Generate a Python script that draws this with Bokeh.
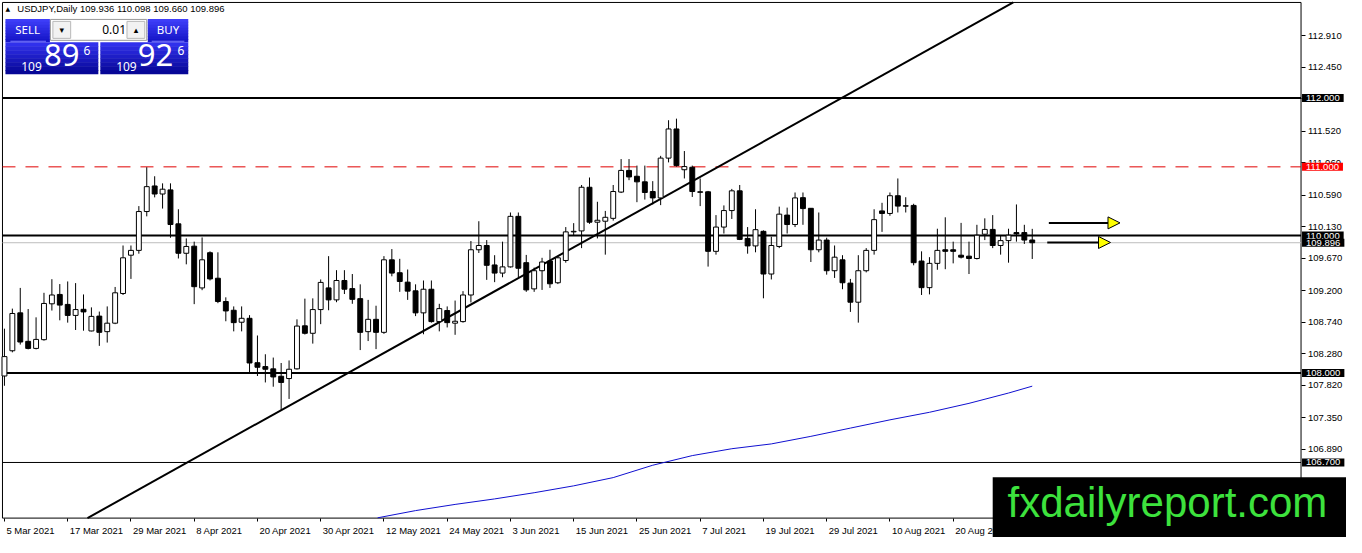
from bokeh.plotting import figure
from bokeh.models import (Range1d, FixedTicker, NumeralTickFormatter, Label, BoxAnnotation,
                          Arrow, NormalHead, ColumnDataSource)
from bokeh.embed import file_html
from bokeh.resources import INLINE

# ---------------- data ----------------
symbol_header = "USDJPY,Daily  109.936 110.098 109.660 109.896"

opens = [107.958, 108.325, 108.876, 108.462, 108.359, 108.486, 109.008, 109.144, 108.999, 108.839,
         108.928, 108.613, 108.829, 108.603, 108.726, 109.158, 109.715, 109.785, 110.350, 110.722,
         110.605, 110.665, 110.171, 109.743, 109.846, 109.239, 109.751, 109.380, 109.041, 108.914,
         108.740, 108.797, 108.151, 108.095, 108.062, 107.954, 107.921, 108.062, 108.688, 108.579,
         108.924, 109.239, 109.065, 109.347, 109.229, 109.083, 108.603, 108.782, 108.593, 109.648,
         109.460, 109.323, 109.197, 108.876, 109.220, 108.749, 108.910, 108.726, 108.749, 109.136,
         109.794, 109.856, 109.573, 109.455, 109.545, 110.280, 109.606, 109.225, 109.489, 109.630,
         109.314, 109.638, 110.054, 110.068, 110.703, 110.195, 110.209, 110.251, 110.633, 110.948,
         110.863, 110.782, 110.641, 110.548, 111.127, 111.551, 110.958, 110.994, 110.637, 110.637,
         109.771, 110.124, 110.364, 110.651, 109.959, 109.850, 110.062, 109.441, 109.842, 110.298,
         110.161, 110.552, 110.397, 109.794, 109.935, 109.489, 109.648, 109.309, 109.031, 109.489,
         109.785, 110.359, 110.322, 110.580, 110.434, 110.439, 109.630, 109.243, 109.596, 109.794,
         109.794, 109.715, 109.701, 109.667, 110.020, 110.090, 109.856, 109.927, 110.044, 110.044,
         109.936]
highs = [108.646, 108.938, 109.239, 108.932, 108.811, 109.168, 109.366, 109.295, 109.333, 109.309,
         109.144, 108.956, 108.895, 108.970, 109.253, 109.856, 109.856, 110.429, 110.994, 110.863,
         110.760, 110.760, 110.383, 109.959, 109.912, 109.973, 109.771, 109.757, 109.102, 108.970,
         108.970, 108.843, 108.547, 108.274, 108.226, 108.147, 108.184, 108.782, 109.083, 109.087,
         109.362, 109.701, 109.497, 109.497, 109.441, 109.291, 109.065, 108.980, 109.701, 109.804,
         109.662, 109.507, 109.291, 109.347, 109.347, 109.008, 108.970, 109.055, 109.192, 109.921,
         110.209, 109.935, 109.715, 109.912, 110.336, 110.336, 109.719, 109.535, 109.677, 109.794,
         109.701, 110.124, 110.181, 110.736, 110.845, 110.492, 110.359, 110.736, 111.113, 111.113,
         111.018, 111.018, 110.792, 111.160, 111.678, 111.701, 111.230, 111.018, 110.831, 110.650,
         110.298, 110.439, 110.679, 110.736, 110.124, 110.383, 110.076, 109.983, 110.421, 110.407,
         110.627, 110.627, 110.400, 110.336, 109.969, 109.856, 109.715, 109.370, 109.715, 109.818,
         110.383, 110.477, 110.627, 110.831, 110.558, 110.463, 109.771, 109.686, 110.100, 110.266,
         109.912, 110.185, 109.912, 110.157, 110.251, 110.298, 110.006, 110.100, 110.453, 110.157,
         110.098]
lows = [107.816, 108.302, 108.415, 108.345, 108.345, 108.472, 108.910, 108.768, 108.734, 108.627,
        108.617, 108.607, 108.396, 108.444, 108.712, 109.136, 109.370, 109.737, 110.280, 110.556,
        110.393, 109.969, 109.667, 109.582, 109.003, 109.206, 109.347, 109.017, 108.754, 108.607,
        108.607, 108.006, 107.958, 107.864, 107.802, 107.463, 107.624, 108.052, 108.561, 108.429,
        108.712, 108.914, 109.031, 109.150, 109.008, 108.335, 108.466, 108.349, 108.571, 109.408,
        109.182, 109.065, 108.829, 108.565, 108.734, 108.607, 108.664, 108.557, 108.734, 109.027,
        109.747, 109.356, 109.323, 109.394, 109.535, 109.394, 109.182, 109.182, 109.210, 109.239,
        109.295, 109.606, 110.006, 109.818, 110.171, 109.959, 109.723, 110.218, 110.619, 110.806,
        110.486, 110.524, 110.453, 110.443, 111.065, 111.004, 110.831, 110.562, 110.429, 109.549,
        109.723, 110.030, 110.242, 109.935, 109.737, 109.757, 109.088, 109.362, 109.818, 110.030,
        110.124, 110.157, 109.616, 109.757, 109.432, 109.384, 109.220, 108.890, 108.734, 109.465,
        109.723, 110.054, 110.288, 110.336, 110.336, 109.568, 109.136, 109.145, 109.503, 109.511,
        109.596, 109.667, 109.441, 109.653, 109.935, 109.818, 109.723, 109.606, 109.912, 109.878,
        109.660]
closes = [108.240, 108.867, 108.452, 108.359, 108.490, 109.013, 109.136, 108.989, 108.839, 108.924,
          108.890, 108.825, 108.593, 108.726, 109.168, 109.677, 109.785, 110.350, 110.712, 110.605,
          110.675, 110.161, 109.743, 109.842, 109.257, 109.648, 109.370, 109.041, 108.904, 108.734,
          108.797, 108.147, 108.085, 108.056, 107.944, 107.864, 108.056, 108.684, 108.579, 108.924,
          109.319, 109.065, 109.347, 109.220, 109.073, 108.593, 108.782, 108.593, 109.648, 109.455,
          109.333, 109.192, 108.876, 109.220, 108.749, 108.938, 108.734, 108.754, 109.136, 109.794,
          109.856, 109.568, 109.455, 109.545, 110.280, 109.525, 109.210, 109.489, 109.616, 109.299,
          109.677, 110.054, 110.062, 110.703, 110.195, 110.223, 110.266, 110.641, 110.948, 110.853,
          110.782, 110.627, 110.548, 111.127, 111.551, 111.018, 111.004, 110.641, 110.630, 109.771,
          110.124, 110.364, 110.651, 109.945, 109.850, 110.086, 109.441, 109.856, 110.312, 110.161,
          110.548, 110.393, 109.794, 109.935, 109.489, 109.686, 109.314, 109.031, 109.489, 109.785,
          110.232, 110.322, 110.580, 110.429, 110.428, 109.606, 109.243, 109.596, 109.785, 109.771,
          109.771, 109.686, 109.667, 110.006, 110.090, 109.856, 109.927, 110.006, 110.025, 109.935,
          109.896]

ma200_bar = [47.2, 52, 57, 62, 67, 72, 77, 82, 87, 92, 97, 102, 107, 112, 117, 122, 127, 130]
ma200_val = [105.895, 106.00, 106.09, 106.17, 106.26, 106.36, 106.48, 106.66, 106.80, 106.90,
             106.97, 107.08, 107.20, 107.32, 107.43, 107.56, 107.71, 107.81]

trend_bar = [10.5, 127.6]
trend_val = [105.891, 113.391]

black_levels = [112.0, 110.0, 108.0]
thin_level = 106.7
red_level = 111.0
bid_price = 109.896

arrow_price = [110.185, 109.900]
arrow_from = [132.1, 131.9]
arrow_to = [141.1, 139.9]

date_ticks = [0, 8, 16, 24, 32, 40, 48, 56, 64, 72, 80, 88, 96, 104, 112, 120]
date_labels = ["5 Mar 2021", "17 Mar 2021", "29 Mar 2021", "8 Apr 2021", "20 Apr 2021",
               "30 Apr 2021", "12 May 2021", "24 May 2021", "3 Jun 2021", "15 Jun 2021",
               "25 Jun 2021", "7 Jul 2021", "19 Jul 2021", "29 Jul 2021", "10 Aug 2021",
               "20 Aug 2021"]
price_ticks = [106.890, 107.350, 107.820, 108.280, 108.740, 109.200, 109.670, 110.130,
               110.590, 111.060, 111.520, 111.990, 112.450, 112.910]

# chart window (MT4 frame) in data units
win_left, win_right = -0.25, 164.0
win_bottom, win_top = 105.891, 113.391

# ---------------- figure ----------------
W, H = 1346, 537
KX, KY = W / 1362.0, H / 553.0
AXF = "Liberation Sans"
AXS = "9.5px"

p = figure(width=W, height=H, output_backend="svg", toolbar_location=None,
           x_range=Range1d(-0.5, 169.75), y_range=Range1d(105.6088, 113.4195),
           y_axis_location="right", x_axis_location="below",
           min_border=0, min_border_left=0, min_border_right=0,
           min_border_top=0, min_border_bottom=0)
p.grid.visible = False
p.outline_line_color = None
p.background_fill_color = "white"
p.border_fill_color = "white"

# price axis (drawn at the right edge of the chart window)
ya = p.yaxis[0]
ya.fixed_location = win_right
ya.ticker = FixedTicker(ticks=price_ticks)
ya.formatter = NumeralTickFormatter(format="0.000")
ya.major_tick_out = 4
ya.major_tick_in = 0
ya.minor_tick_out = 0
ya.minor_tick_in = 0
ya.major_label_standoff = 3
ya.major_label_text_font = AXF
ya.major_label_text_font_size = AXS
ya.major_label_text_color = "black"
ya.axis_line_color = None
ya.major_tick_line_color = "black"


# time axis (drawn at the bottom of the chart window); labels start at their tick
def text_w(s, size=9.5):
    wt = {" ": 278, "M": 833, "a": 556, "r": 333, "A": 667, "p": 556, "y": 500, "J": 500,
          "u": 556, "n": 556, "l": 222, "S": 667, "e": 556, "g": 556}
    return sum(wt.get(ch, 556) for ch in s) / 1000.0 * size


label_pos = [t + (2.0 + text_w(s) / 2.0) / (8.0 * KX) for t, s in zip(date_ticks, date_labels)]
xa = p.xaxis[0]
xa.fixed_location = win_bottom
xa.ticker = FixedTicker(ticks=label_pos, minor_ticks=date_ticks)
xa.major_label_overrides = {pos: s for pos, s in zip(label_pos, date_labels)}
xa.major_tick_out = 0
xa.major_tick_in = 0
xa.minor_tick_out = 3
xa.minor_tick_in = 0
xa.minor_tick_line_color = "black"
xa.major_label_standoff = 4
xa.major_label_text_font = AXF
xa.major_label_text_font_size = AXS
xa.major_label_text_color = "black"
xa.axis_line_color = None

# chart window border
p.add_layout(BoxAnnotation(left=win_left, right=win_right, bottom=win_bottom, top=win_top,
                           fill_alpha=0.0, line_color="black", line_width=1, line_alpha=1.0,
                           level="underlay"))

# horizontal levels
for lv in black_levels:
    p.segment(x0=win_left, x1=win_right, y0=lv, y1=lv, line_color="black", line_width=2)
p.segment(x0=win_left, x1=win_right, y0=thin_level, y1=thin_level, line_color="black", line_width=1)
p.segment(x0=win_left, x1=win_right, y0=red_level, y1=red_level, line_color="#e00000",
          line_width=1, line_dash="13 10")
p.segment(x0=win_left, x1=win_right, y0=bid_price, y1=bid_price, line_color="#bdbdbd",
          line_width=1)

# moving average and trend line
p.line(ma200_bar, ma200_val, line_color="#1010d0", line_width=1)
p.line(trend_bar, trend_val, line_color="black", line_width=2)

# candles
n = len(opens)
src = ColumnDataSource(dict(
    x=list(range(n)), o=opens, h=highs, l=lows, c=closes,
    top=[max(a, b) for a, b in zip(opens, closes)],
    bot=[min(a, b) for a, b in zip(opens, closes)],
    fill=["white" if c >= o else "black" for o, c in zip(opens, closes)],
))
p.segment(x0="x", y0="h", x1="x", y1="l", source=src, line_color="black", line_width=1)
p.vbar(x="x", width=0.62, top="top", bottom="bot", source=src, fill_color="fill",
       line_color="black", line_width=1)

# arrows
for yv, x0, x1 in zip(arrow_price, arrow_from, arrow_to):
    p.add_layout(Arrow(end=NormalHead(size=12, fill_color="#ffff00", line_color="black", line_width=1),
                       x_start=x0, y_start=yv, x_end=x1, y_end=yv,
                       line_color="black", line_width=2))

# price tags on the price axis
tags = [(112.0, "black"), (111.0, "#ff0000"), (110.0, "black"), (bid_price, "black"),
        (108.0, "black"), (thin_level, "black")]
for pr, col in tags:
    p.add_layout(Label(x=1317 * KX, x_units="screen", y=pr, y_units="data", text=f"{pr:.3f}",
                       text_color="white", text_font=AXF, text_font_size=AXS,
                       text_baseline="middle", background_fill_color=col,
                       background_fill_alpha=1.0, padding=(4, 1)))


# ---------------- one-click trading panel (screen units) ----------------
def sx(xr):
    return xr * KX


def sy(yr):
    return (553 - yr) * KY


def box(l, r, t, b, color, line=None, level="annotation"):
    p.add_layout(BoxAnnotation(left=sx(l), right=sx(r), top=sy(t), bottom=sy(b),
                               left_units="screen", right_units="screen",
                               top_units="screen", bottom_units="screen",
                               fill_color=color, fill_alpha=1.0,
                               line_color=line if line else color,
                               line_alpha=1.0 if line else 0.0, level=level))


def grad(l, r, t, b, c1, c2, steps=8):
    h = (b - t) / steps
    for i in range(steps):
        f = i / (steps - 1)
        col = "#%02x%02x%02x" % tuple(int(c1[k] + (c2[k] - c1[k]) * f) for k in range(3))
        box(l, r, t + i * h, min(b, t + (i + 1) * h + 0.6), col)


def lab(xr, yr, text, size, color="white", font="Noto Sans", align="left", level="annotation"):
    p.add_layout(Label(x=sx(xr), y=sy(yr), x_units="screen", y_units="screen", text=text,
                       text_font=font, text_font_size=size, text_color=color,
                       text_align=align, text_baseline="middle", level=level))


grad(5, 50, 19, 43, (62, 62, 248), (22, 22, 200))
grad(149, 190, 19, 43, (62, 62, 248), (22, 22, 200))
grad(5, 99, 43, 76, (48, 48, 236), (6, 6, 150))
grad(101, 190, 43, 76, (48, 48, 236), (6, 6, 150))
box(10, 46, 41.5, 42.5, "#7a7aff")
box(153, 186, 41.5, 42.5, "#7a7aff")
box(50.5, 148, 19.5, 41, "white", line="#9a9a9a")
box(53, 71, 21.5, 39, "#f2f2f2", line="#b8b8b8")
box(128, 146, 21.5, 39, "#f2f2f2", line="#b8b8b8")
lab(62, 30, "\u25BE", "9px", color="black", font="DejaVu Sans", align="center")
lab(137, 30, "\u25B4", "9px", color="black", font="DejaVu Sans", align="center")
lab(127, 30, "0.01", "12px", color="black", align="right")
lab(27.5, 30, "SELL", "11.5px", align="center")
lab(169.5, 30, "BUY", "11.5px", align="center")
lab(21, 67.5, "109", "12px")
lab(44, 56, "89", "31px")
lab(84, 51, "6", "12px")
lab(117, 67.5, "109", "12px")
lab(139, 56, "92", "31px")
lab(179, 51, "6", "12px")

lab(5, 8.5, "\u25B2", "6px", color="black", font="DejaVu Sans")
lab(17, 8.5, symbol_header, AXS, color="black", font=AXF)

# ---------------- watermark ----------------
p.add_layout(BoxAnnotation(left=sx(1004), right=W + 10, top=sy(491), bottom=-10,
                           left_units="screen", right_units="screen",
                           top_units="screen", bottom_units="screen",
                           fill_color="black", fill_alpha=1.0, line_alpha=0.0, level="overlay"))
p.add_layout(Label(x=sx(1019), y=sy(517), x_units="screen", y_units="screen",
                   text="fxdailyreport.com", text_font="Liberation Sans", text_font_size="42px",
                   text_color="#3de23d", text_baseline="middle", level="overlay"))

open("out.html", "w").write(file_html(p, INLINE))
